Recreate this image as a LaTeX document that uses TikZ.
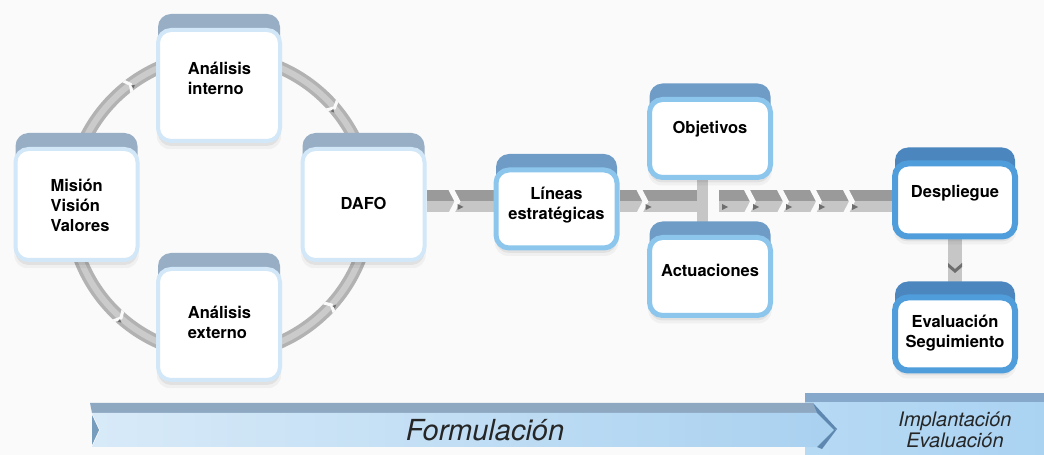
\documentclass[tikz,border=0pt]{standalone}
\usepackage{fontspec}
\setmainfont{TeX Gyre Heros}
\usetikzlibrary{shadows,decorations.markings}
\definecolor{bgc}{HTML}{FAFAFA}
\definecolor{borderA}{HTML}{D2E7F7}
\definecolor{bandA}{HTML}{98AEC5}
\definecolor{borderB}{HTML}{8DC6EC}
\definecolor{bandB}{HTML}{6F9CC7}
\definecolor{borderC}{HTML}{4F9EDB}
\definecolor{bandC}{HTML}{4C86BE}
\definecolor{barlo}{HTML}{C6C6C6}
\definecolor{barhi}{HTML}{9A9A9A}
\definecolor{chevdark}{HTML}{6E6E6E}
\definecolor{ringc}{HTML}{B2B2B2}
\definecolor{ringhi}{HTML}{CBCBCB}
\definecolor{banL}{HTML}{D8EAF8}
\definecolor{banR}{HTML}{A9D1F0}
\definecolor{banTop}{HTML}{8EA8C2}
\definecolor{banSide}{HTML}{5E88B0}
\definecolor{impTop}{HTML}{86A9CB}
\definecolor{impFace}{HTML}{AAD3F2}
\pgfdeclarelayer{back}
\pgfdeclarelayer{bars}
\pgfsetlayers{back,bars,main}
\newcommand\mychev{%
  \fill[bgc] (-7,11.5) -- (-1,0) -- (-7,-11.5) -- (-1,-11.5) -- (5,0) -- (-1,11.5) -- cycle;
  \fill[chevdark] (2,-2.5) -- (8,-5.5) -- (2,-8.5) -- cycle;}
\tikzset{
  softshadow/.style={
    general shadow={shadow yshift=-7pt, shadow scale=1.02, fill=black, fill opacity=.04},
    general shadow={shadow yshift=-5pt, fill=black, fill opacity=.06}},
  boxbase/.style={rectangle, rounded corners=13pt, fill=white, inner sep=0pt},
  boxA/.style={boxbase, draw=borderA, line width=4pt, minimum width=122pt, minimum height=111pt,
    softshadow, general shadow={shadow yshift=16pt, fill=bandA}},
  boxB/.style={boxbase, draw=borderB, line width=5pt, minimum width=121pt, minimum height=78pt,
    softshadow, general shadow={shadow yshift=16pt, fill=bandB}},
  boxC/.style={boxbase, draw=borderC, line width=6pt, minimum width=120pt, minimum height=73pt,
    softshadow, general shadow={shadow yshift=16pt, fill=bandC}},
  btext/.style={align=center, font=\bfseries\fontsize{16.5}{20}\selectfont, inner sep=0pt},
  ltext/.style={btext, align=left},
  ring/.style={line width=13pt, draw=ringc, postaction={draw=ringhi, line width=6pt}},
  rchev/.style={postaction={decorate, decoration={markings,
      mark=at position #1 with {\begin{scope}[scale=.58]\mychev\end{scope}}}}},
  hbar/.style={line width=22pt, draw=barlo,
    postaction={draw=barhi, line width=11pt, transform canvas={yshift=5.5pt}}},
  hchev/.style={postaction={decorate, decoration={markings, mark=at position #1 with {\mychev}}}},
  htri/.style={postaction={decorate, decoration={markings, mark=at position #1 with
      {\fill[chevdark] (0,-2.5) -- (6,-5.5) -- (0,-8.5) -- cycle;}}}},
  tbar/.style={line width=11pt, draw=barlo},
  vbar/.style={line width=14pt, draw=barlo},
  vchev/.style={postaction={decorate, decoration={markings, mark=at position #1 with
      {\fill[chevdark] (-4,7) -- (2,0) -- (-4,-7) -- (0,-7) -- (6,0) -- (0,7) -- cycle;}}}},
}
\begin{document}
\begin{tikzpicture}[x=1pt,y=1pt]
\useasboundingbox (0,0) rectangle (1044,455);
\begin{pgfonlayer}{back}
  \fill[bgc] (0,0) rectangle (1044,455);
\end{pgfonlayer}

% boxes
\node[boxA] (mvv)  at (76.5,250.5) {};
\node[boxA] (ai)   at (219,369.5) {};
\node[boxA] (dafo) at (363.5,250.5) {};
\node[boxA] (ae)   at (219,130.5) {};
\node[boxB] (le)   at (556.5,246) {};
\node[boxB] (obj)  at (710,316.5) {};
\node[boxB] (act)  at (710,178.5) {};
\node[boxC] (des)  at (955,255) {};
\node[boxC] (eva)  at (955,121) {};

% texts
\node[ltext] (mvvt)  at (80,249.5) {Misión\\Visión\\Valores};
\node[ltext] (ait)   at (219.5,377) {Análisis\\interno};
\node[btext] (dafot) at (363.5,252) {DAFO};
\node[ltext] (aet)   at (219.5,133) {Análisis\\externo};
\node[btext] (let)   at (556.5,250) {Líneas\\estratégicas};
\node[btext] (objt)  at (710,326) {Objetivos};
\node[btext] (actt)  at (710,185) {Actuaciones};
\node[btext] (dest)  at (955,262) {Despliegue};
\node[btext] (evat)  at (955,122) {Evaluación\\Seguimiento};

% connectors
\coordinate (axis) at (0,253.5);
\coordinate (tx) at (702.5,0);
\coordinate (rs) at (719,253.5);
\begin{pgfonlayer}{bars}
  \draw[ring, rchev=.59] ([xshift=-6.5pt]mvv.center) to[out=90,in=180] ([yshift=30.5pt]ai.center);
  \draw[ring, rchev=.55] ([yshift=30.5pt]ai.center) to[out=0,in=90] ([xshift=6.5pt]dafo.center);
  \draw[ring, rchev=.54] ([xshift=-6.5pt]mvv.center) to[out=270,in=180] ([yshift=-30.5pt]ae.center);
  \draw[ring, rchev=.53] ([yshift=-30.5pt]ae.center) to[out=0,in=270] ([xshift=6.5pt]dafo.center);
  \draw[hbar, hchev=29pt] (dafo.east |- axis) -- (le.west |- axis);
  \draw[hbar, hchev=24pt] (le.east |- axis) -- (tx |- axis);
  \draw[tbar] (obj.south -| tx) -- (act.north -| tx);
  \draw[hbar, htri=3pt, hchev=32pt, hchev=65pt, hchev=98pt, hchev=131pt] (rs) -- (des.west |- axis);
  \draw[vbar, vchev=.5] (des.south) -- (eva.north);
\end{pgfonlayer}

% bottom banners
\fill[impTop] (805,62) rectangle (1044,52);
\shade[left color=impFace!85!white, right color=impFace] (805,52) rectangle (1044,0);
\fill[banTop] (90,52) -- (813,52) -- (817,42) -- (92,42) -- cycle;
\shade[left color=banL, right color=banR] (92,42) -- (817,42) -- (834,25) -- (817,8) -- (92,8) -- (100,25) -- cycle;
\fill[banSide] (813,52) -- (837,26) -- (834,25) -- (817,42) -- cycle;
\fill[banSide] (817,8) -- (834,25) -- (837,26) -- (822,6) -- cycle;
\fill[banSide!80!banL] (92,40) -- (99,25) -- (92,10) -- cycle;
\node[font=\itshape\fontsize{29}{32}\selectfont, text=black!85, inner sep=0pt] (form) at (485,25) {Formulación};
\node[font=\itshape\fontsize{20}{21}\selectfont, text=black!85, align=center, inner sep=0pt] (impl) at (955,25) {Implantación\\Evaluación};
\end{tikzpicture}
\end{document}
